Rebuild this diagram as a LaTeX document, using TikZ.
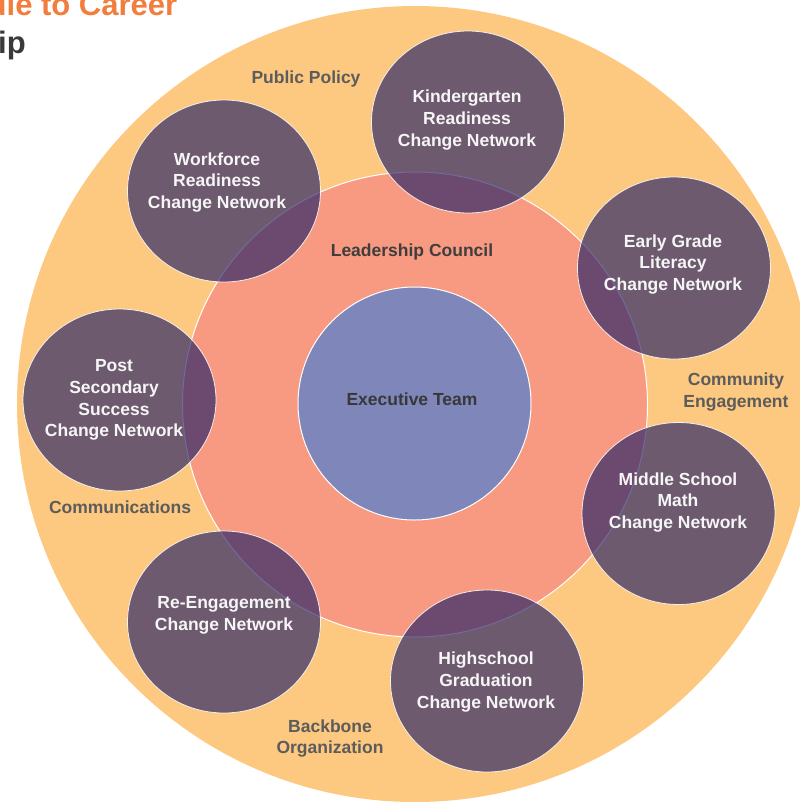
\documentclass[tikz,border=0pt]{standalone}
\usepackage{fontspec}
\setmainfont{Liberation Sans}
\usetikzlibrary{shapes.geometric}

\definecolor{ringorange}{RGB}{253,200,128}
\definecolor{councilsalmon}{RGB}{248,154,130}
\definecolor{execblue}{RGB}{127,134,185}
\definecolor{netpurple}{RGB}{40,36,103}
\definecolor{titleorange}{RGB}{242,125,60}
\definecolor{titlegray}{RGB}{58,58,58}
\definecolor{labelgray}{RGB}{92,92,92}
\definecolor{darklabel}{RGB}{62,62,62}
\definecolor{netwhite}{RGB}{246,246,246}

\begin{document}
\begin{tikzpicture}[x=1pt,y=-1pt,
  ringdisc/.style={circle, fill=ringorange, inner sep=0pt, minimum size=796pt},
  councildisc/.style={circle, fill=councilsalmon, draw=white, line width=1pt, inner sep=0pt, minimum size=465pt},
  execdisc/.style={circle, fill=execblue, draw=white, line width=1pt, inner sep=0pt, minimum size=233pt},
  netdisc/.style={ellipse, fill=netpurple, fill opacity=0.67, draw=white, draw opacity=0.85,
    line width=0.8pt, inner sep=0pt, minimum width=193pt, minimum height=182pt},
  nettext/.style={align=center, inner sep=0pt, text=netwhite,
    font=\bfseries\fontsize{17.5}{21.7}\selectfont},
  ringtext/.style={align=center, inner sep=0pt, text=labelgray,
    font=\bfseries\fontsize{17.5}{21.7}\selectfont},
  coretext/.style={align=center, inner sep=0pt, text=darklabel,
    font=\bfseries\fontsize{17.5}{21.7}\selectfont},
  titletext/.style={anchor=base west, inner sep=0pt, font=\bfseries\fontsize{31}{36}\selectfont}
]
\useasboundingbox (0,0) rectangle (800,804);
\clip (0,0) rectangle (800,804);

% heading, running off the left edge
\node[titletext, text=titleorange] (headA) at (-12.5,15) {dle to Career};
\node[titletext, text=titlegray] (headB) at (-2,53) {ip};

% concentric discs
\node[ringdisc] (ring) at (415,404) {};
\node[councildisc] (council) at (415,404.5) {};
\node[execdisc] (exec) at (414.5,403.5) {};

% ring labels
\node[ringtext] (policy) at (306,79) {Public Policy};
\node[ringtext] (community) at (736,392) {Community\\Engagement};
\node[ringtext] (comms) at (120,507) {Communications};
\node[ringtext] (backbone) at (330,738.5) {Backbone\\Organization};

% inner labels
\node[coretext] (councillbl) at (412,252) {Leadership Council};
\node[coretext, text=darklabel!90!black] (execlbl) at (412,399) {Executive Team};

% change networks
\node[netdisc] (kg) at (468,122) {};
\node[netdisc] (egl) at (674,268) {};
\node[netdisc] (msm) at (678.5,513.5) {};
\node[netdisc] (hsg) at (487,681) {};
\node[netdisc] (reng) at (224,622) {};
\node[netdisc] (pss) at (119.5,400) {};
\node[netdisc] (wfr) at (224,191) {};

\node[nettext] (kgt) at (467,120) {Kindergarten\\Readiness\\Change Network};
\node[nettext] (eglt) at (673,264.5) {Early Grade\\Literacy\\Change Network};
\node[nettext] (msmt) at (678,502.5) {Middle School\\Math\\Change Network};
\node[nettext] (hsgt) at (486,682) {Highschool\\Graduation\\Change Network};
\node[nettext] (rengt) at (224,615) {Re-Engagement\\Change Network};
\node[nettext] (psst) at (114,400) {Post\\Secondary\\Success\\Change Network};
\node[nettext] (wfrt) at (217,182.5) {Workforce\\Readiness\\Change Network};
\end{tikzpicture}
\end{document}
